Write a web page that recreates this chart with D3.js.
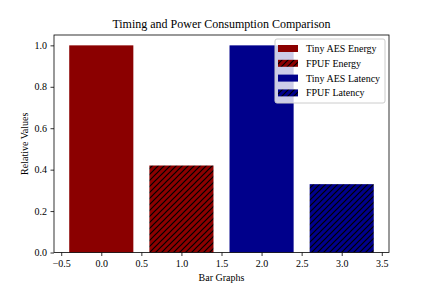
<!DOCTYPE html>
<html>
<head>
<meta charset="utf-8">
<script src="https://cdn.jsdelivr.net/npm/d3@7"></script>
<style>
  body { margin: 0; background: #fff; }
  svg text { font-family: "Liberation Serif", "Times New Roman", serif; fill: #000; }
</style>
</head>
<body>
<svg id="chart" width="432" height="288"></svg>
<script>
// data
var labels = ["Tiny AES Energy", "FPUF Energy", "Tiny AES Latency", "FPUF Latency"];
var positions = [0, 1, 2, 3];
var values = [1.0, 0.42, 1.0, 0.33];
var colors = ["#8b0000", "#8b0000", "#00008b", "#00008b"];
var hatched = [false, true, false, true];
var xTicks = [-0.5, 0, 0.5, 1, 1.5, 2, 2.5, 3, 3.5];
var yTicks = [0, 0.2, 0.4, 0.6, 0.8, 1.0];

var svg = d3.select("#chart"),
    width = 432,
    height = 288,
    margin = {left: 54, right: 43, top: 35, bottom: 35.5};

var x = d3.scaleLinear().domain([-0.59, 3.59]).range([margin.left, width - margin.right]);
var y = d3.scaleLinear().domain([0, 1.05]).range([height - margin.bottom, margin.top]);

// hatch patterns, one per colour
var defs = svg.append("defs");
colors.forEach(function (c, i) {
    if (!hatched[i]) return;
    var p = defs.append("pattern")
        .attr("id", "hatch" + i)
        .attr("patternUnits", "userSpaceOnUse")
        .attr("width", 6).attr("height", 6);
    p.append("rect").attr("width", 6).attr("height", 6).attr("fill", c);
    p.append("path")
        .attr("d", "M-1,1 l2,-2 M0,6 l6,-6 M5,7 l2,-2")
        .attr("stroke", "#000").attr("stroke-width", 1.2);
});

function fillFor(i) {
    return hatched[i] ? "url(#hatch" + i + ")" : colors[i];
}

// bars
svg.append("g").selectAll("rect")
    .data(values)
    .enter().append("rect")
    .attr("x", function (d, i) { return x(positions[i] - 0.4); })
    .attr("width", function (d, i) { return x(positions[i] + 0.4) - x(positions[i] - 0.4); })
    .attr("y", function (d) { return y(d); })
    .attr("height", function (d) { return y(0) - y(d); })
    .attr("fill", function (d, i) { return fillFor(i); });

// axes
var xAxis = svg.append("g")
    .attr("transform", "translate(0," + y(0) + ")")
    .call(d3.axisBottom(x).tickValues(xTicks).tickFormat(d3.format(".1f")).tickSizeInner(3.5).tickSizeOuter(0).tickPadding(3.5));
var yAxis = svg.append("g")
    .attr("transform", "translate(" + x.range()[0] + ",0)")
    .call(d3.axisLeft(y).tickValues(yTicks).tickFormat(d3.format(".1f")).tickSizeInner(3.5).tickSizeOuter(0).tickPadding(3.5));

[xAxis, yAxis].forEach(function (g) {
    g.select(".domain").remove();
    g.selectAll("line").attr("stroke", "#000").attr("stroke-width", 0.8);
    g.selectAll("text").attr("font-size", 10)
        .style("font-family", "'Liberation Serif', 'Times New Roman', serif");
});
xAxis.selectAll("text").text(function (d) { return d3.format(".1f")(d).replace("-", "\u2212"); });

// frame
svg.append("rect")
    .attr("x", x.range()[0]).attr("y", y.range()[1])
    .attr("width", x.range()[1] - x.range()[0])
    .attr("height", y.range()[0] - y.range()[1])
    .attr("fill", "none").attr("stroke", "#000").attr("stroke-width", 0.8);

// titles
svg.append("text")
    .attr("x", (x.range()[0] + x.range()[1]) / 2).attr("y", 28)
    .attr("text-anchor", "middle").attr("font-size", 12)
    .text("Timing and Power Consumption Comparison");
svg.append("text")
    .attr("x", (x.range()[0] + x.range()[1]) / 2).attr("y", 281)
    .attr("text-anchor", "middle").attr("font-size", 10)
    .text("Bar Graphs");
svg.append("text")
    .attr("transform", "translate(28," + (y.range()[0] + y.range()[1]) / 2 + ") rotate(-90)")
    .attr("text-anchor", "middle").attr("font-size", 10)
    .text("Relative Values");

// legend
var lgX = 275, lgY = 39, lgW = 110, lgH = 64;
var legend = svg.append("g");
legend.append("rect")
    .attr("x", lgX).attr("y", lgY).attr("width", lgW).attr("height", lgH)
    .attr("rx", 2).attr("ry", 2)
    .attr("fill", "#fff").attr("fill-opacity", 0.8)
    .attr("stroke", "#ccc").attr("stroke-width", 1);
labels.forEach(function (lab, i) {
    var cy = lgY + 9.5 + i * 14.8;
    legend.append("rect")
        .attr("x", lgX + 3).attr("y", cy - 3.5)
        .attr("width", 20).attr("height", 7)
        .attr("fill", fillFor(i));
    legend.append("text")
        .attr("x", lgX + 31).attr("y", cy + 3.5)
        .attr("font-size", 10)
        .text(lab);
});
</script>
</body>
</html>
